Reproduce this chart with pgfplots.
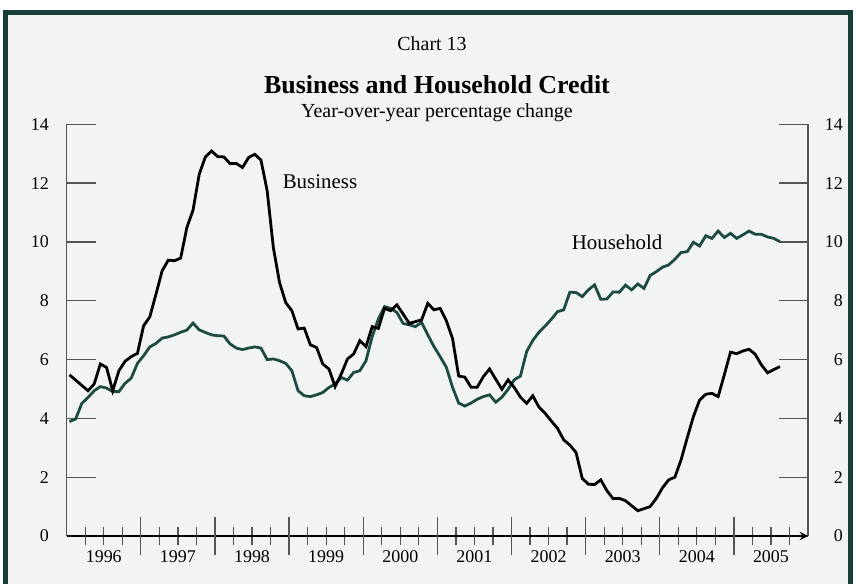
\documentclass[border=0pt]{standalone}
\usepackage{fontspec}
\setmainfont{Liberation Serif}
\usepackage{pgfplots}
\pgfplotsset{compat=1.18}
\usepackage{pgfplotstable}

\definecolor{framec}{HTML}{173F3A}
\definecolor{bgc}{HTML}{F2F4F3}
\definecolor{hhc}{HTML}{1E4A44}
\definecolor{tickc}{HTML}{555555}

% month index (0 = Jan 1996), business credit, household credit (y/y %)
\pgfplotstableread{
m bus hh
0 5.48 3.89
1 5.30 3.98
2 5.12 4.51
3 4.94 4.71
4 5.17 4.94
5 5.85 5.08
6 5.73 5.03
7 4.94 4.91
8 5.62 4.91
9 5.94 5.19
10 6.10 5.37
11 6.21 5.87
12 7.15 6.13
13 7.45 6.43
14 8.22 6.55
15 9.02 6.73
16 9.38 6.77
17 9.36 6.84
18 9.45 6.93
19 10.49 7.00
20 11.08 7.24
21 12.30 7.01
22 12.89 6.92
23 13.09 6.84
24 12.90 6.81
25 12.89 6.80
26 12.66 6.53
27 12.67 6.39
28 12.53 6.34
29 12.87 6.39
30 12.98 6.43
31 12.78 6.39
32 11.74 6.00
33 9.81 6.02
34 8.62 5.96
35 7.94 5.87
36 7.66 5.62
37 7.04 4.94
38 7.07 4.77
39 6.50 4.74
40 6.41 4.80
41 5.85 4.88
42 5.68 5.05
43 5.08 5.17
44 5.51 5.39
45 6.02 5.30
46 6.19 5.56
47 6.64 5.62
48 6.44 5.96
49 7.12 6.78
50 7.06 7.38
51 7.74 7.80
52 7.66 7.74
53 7.86 7.60
54 7.55 7.23
55 7.23 7.18
56 7.29 7.12
57 7.35 7.26
58 7.91 6.84
59 7.69 6.44
60 7.74 6.10
61 7.32 5.74
62 6.72 5.06
63 5.44 4.52
64 5.40 4.42
65 5.06 4.52
66 5.06 4.65
67 5.42 4.74
68 5.68 4.80
69 5.33 4.55
70 4.99 4.72
71 5.31 4.99
72 5.05 5.31
73 4.72 5.44
74 4.51 6.27
75 4.77 6.65
76 4.38 6.93
77 4.17 7.14
78 3.91 7.37
79 3.66 7.63
80 3.27 7.69
81 3.09 8.29
82 2.84 8.28
83 1.96 8.14
84 1.76 8.37
85 1.75 8.54
86 1.91 8.05
87 1.54 8.06
88 1.27 8.30
89 1.28 8.29
90 1.20 8.53
91 1.03 8.37
92 0.86 8.57
93 0.93 8.42
94 1.00 8.86
95 1.28 8.99
96 1.64 9.14
97 1.91 9.22
98 2.00 9.41
99 2.59 9.64
100 3.34 9.67
101 4.06 9.99
102 4.62 9.86
103 4.82 10.21
104 4.85 10.12
105 4.74 10.37
106 5.48 10.15
107 6.25 10.29
108 6.20 10.12
109 6.29 10.24
110 6.35 10.37
111 6.18 10.26
112 5.82 10.26
113 5.55 10.17
114 5.66 10.12
115 5.76 10.01
}\credit

\begin{document}
\begin{tikzpicture}[x=1bp,y=1bp]
\useasboundingbox (0,0) rectangle (856,584);
\fill[white] (0,0) rectangle (856,584);
\fill[framec] (3,-10) rectangle (853,574);
\fill[bgc] (8,-10) rectangle (848,569);

\node[anchor=base,font=\fontsize{20}{24}\selectfont] at (432,533) {Chart 13};
\node[anchor=base,font=\fontsize{26}{30}\bfseries\selectfont] at (437,490) {Business and Household Credit};
\node[anchor=base,font=\fontsize{20}{24}\selectfont] at (437,466) {Year-over-year percentage change};

\pgfplotsset{
  base/.style={
    at={(66.7bp,48bp)}, anchor=south west,
    width=741.3bp, height=411.7bp, scale only axis,
    xmin=0, xmax=120, ymin=0, ymax=14,
    axis line style={-},
    tick align=inside,
    tick style={tickc, line width=1.3bp},
    /pgf/number format/assume math mode=true,
  }
}

% left y axis
\begin{axis}[base,
  axis x line=none, axis y line*=left,
  y axis line style={tickc, line width=1.3bp},
  ytick={0,2,...,14}, major tick length=29bp,
  yticklabel style={anchor=east, inner sep=0pt, xshift=-17.7bp, font=\fontsize{18}{20}\selectfont},
]
\end{axis}

% right y axis
\begin{axis}[base,
  axis x line=none, axis y line*=right,
  y axis line style={tickc, line width=1.3bp},
  ytick={0,2,...,14}, major tick length=29bp,
  yticklabel style={anchor=east, inner sep=0pt, xshift=35bp, font=\fontsize{18}{20}\selectfont},
]
\end{axis}

% main axis with data and time axis
\begin{axis}[base,
  axis x line=bottom, axis y line=none,
  x axis line style={black, line width=2.6bp},
  xtick={6,18,...,114},
  xticklabels={1996,1997,1998,1999,2000,2001,2002,2003,2004,2005},
  major tick length=0pt,
  minor xtick={3,6,...,117},
  minor tick length=18.7bp,
  extra x ticks={12,24,...,108},
  extra x tick labels={},
  extra x tick style={major tick length=37.7bp},
  xticklabel style={anchor=north, inner sep=0pt, yshift=-14bp, font=\fontsize{18}{20}\selectfont},
  clip=false,
]
\addplot[hhc, line width=2.8bp] table[x expr=\thisrow{m}+0.45, y=hh] {\credit};
\addplot[black, line width=2.8bp] table[x expr=\thisrow{m}+0.45, y=bus] {\credit};
\node[font=\fontsize{21}{24}\selectfont] at (axis cs:41,12.04) {Business};
\node[font=\fontsize{21}{24}\selectfont] at (axis cs:89.1,9.97) {Household};
\end{axis}
\end{tikzpicture}
\end{document}
